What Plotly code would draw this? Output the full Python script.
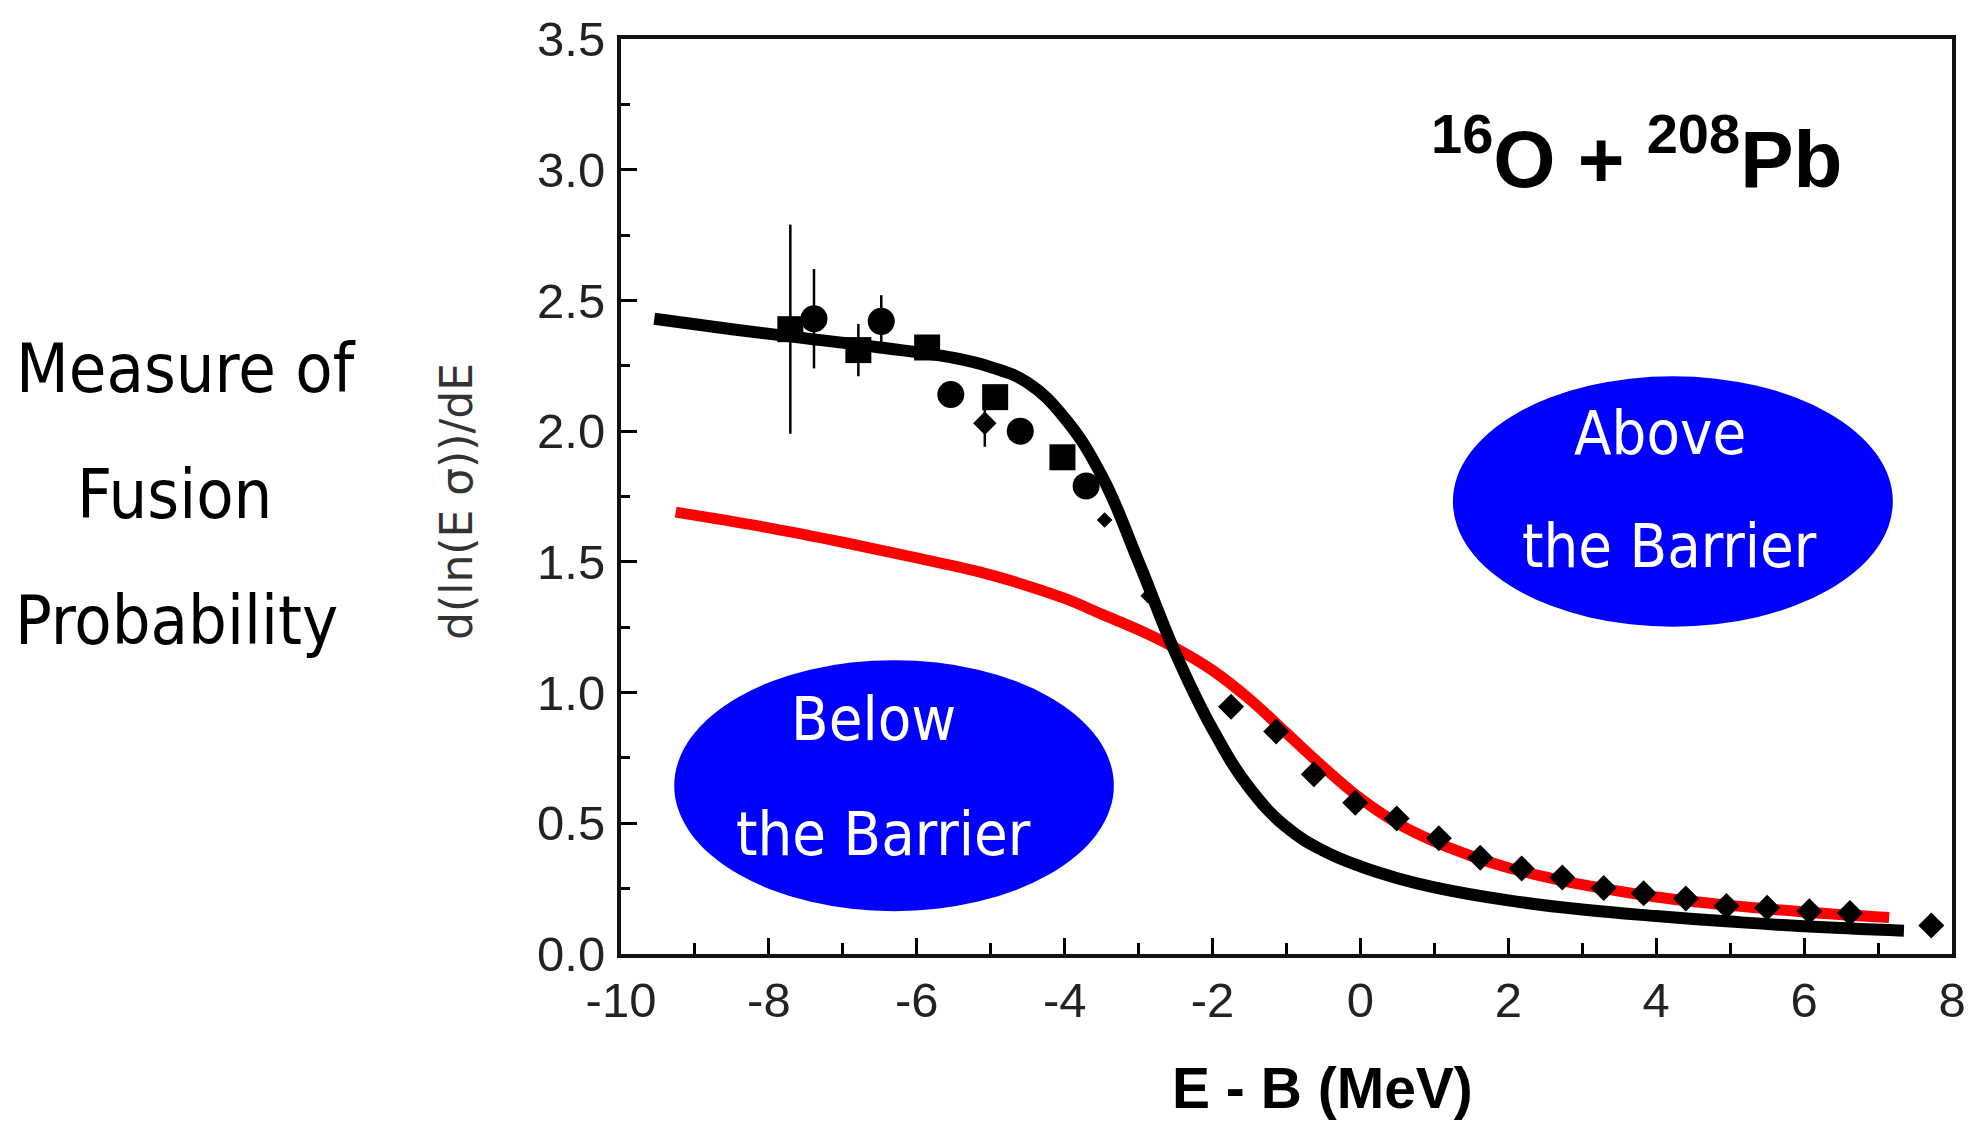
import plotly.graph_objects as go

# ---------------- data ----------------
black_x = [-9.55, -8.5, -7.5, -6.5, -5.5, -5.0, -4.5, -4.0, -3.5, -3.0, -2.5,
           -2.0, -1.5, -1.0, -0.5, 0.0, 0.5, 1.0, 2.0, 3.0, 4.0, 5.0, 6.0, 7.35]
black_y = [2.43, 2.39, 2.355, 2.32, 2.28, 2.245, 2.185, 2.05, 1.83, 1.50, 1.15,
           0.86, 0.635, 0.485, 0.395, 0.335, 0.29, 0.255, 0.205, 0.17, 0.145,
           0.124, 0.106, 0.089]

red_x = [-9.26, -8.0, -7.0, -6.0, -5.0, -4.0, -3.5, -3.0, -2.5, -2.0, -1.5,
         -1.0, -0.5, 0.0, 0.5, 1.0, 1.5, 2.0, 2.5, 3.0, 4.0, 5.0, 6.0, 7.15]
red_y = [1.69, 1.63, 1.575, 1.515, 1.45, 1.36, 1.30, 1.24, 1.17, 1.085, 0.975,
         0.845, 0.715, 0.595, 0.50, 0.43, 0.375, 0.33, 0.295, 0.265, 0.218, 0.186,
         0.161, 0.14]

circle_x = [-7.39, -6.48, -5.54, -4.60, -3.71]
circle_y = [2.43, 2.42, 2.14, 2.00, 1.79]
circle_err = [0.19, 0.10, 0.0, 0.0, 0.0]

square_x = [-7.71, -6.79, -5.86, -4.94, -4.03]
square_y = [2.39, 2.31, 2.32, 2.13, 1.90]
square_err = [0.40, 0.10, 0.0, 0.0, 0.0]

mid_diamond_x = [-5.08]
mid_diamond_y = [2.03]
mid_diamond_err = [0.09]

small_x = [-3.46, -2.87]
small_y = [1.66, 1.37]

diamond_x = [-1.75, -1.14, -0.63, -0.07, 0.49, 1.06, 1.62, 2.18, 2.73, 3.29,
             3.83, 4.40, 4.95, 5.50, 6.07, 6.62, 7.72]
diamond_y = [0.946, 0.851, 0.688, 0.579, 0.518, 0.443, 0.368, 0.327, 0.293, 0.252,
             0.232, 0.212, 0.184, 0.177, 0.164, 0.157, 0.109]

x_tickvals = [-10, -8, -6, -4, -2, 0, 2, 4, 6, 8]
x_ticktext = ["-10", "-8", "-6", "-4", "-2", "0", "2", "4", "6", "8"]
y_tickvals = [0.0, 0.5, 1.0, 1.5, 2.0, 2.5, 3.0, 3.5]
y_ticktext = ["0.0", "0.5", "1.0", "1.5", "2.0", "2.5", "3.0", "3.5"]

# ---------------- layout helpers ----------------
W, H = 1981, 1124
L, R, T, B = 621, 1952, 29, 954


def px(x):
    return (x - L) / (R - L)


def py(y):
    return (B - y) / (B - T)


ARIAL = "Liberation Sans, Arial, sans-serif"
TAHOMA = "DejaVu Sans Condensed, Liberation Sans, sans-serif"

fig = go.Figure()

fig.add_trace(go.Scatter(x=red_x, y=red_y, mode="lines",
                         line=dict(color="#ff0000", width=11, shape="spline",
                                   smoothing=1.0),
                         hoverinfo="skip", showlegend=False))
fig.add_trace(go.Scatter(x=black_x, y=black_y, mode="lines",
                         line=dict(color="#000000", width=12, shape="spline",
                                   smoothing=1.2),
                         hoverinfo="skip", showlegend=False))

err_style = dict(type="data", thickness=2.5, width=0, color="#000000")

fig.add_trace(go.Scatter(x=square_x, y=square_y, mode="markers",
                         marker=dict(symbol="square", size=26, color="#000000"),
                         error_y=dict(array=square_err, **err_style),
                         showlegend=False))
fig.add_trace(go.Scatter(x=circle_x, y=circle_y, mode="markers",
                         marker=dict(symbol="circle", size=27, color="#000000"),
                         error_y=dict(array=circle_err, **err_style),
                         showlegend=False))
fig.add_trace(go.Scatter(x=mid_diamond_x, y=mid_diamond_y, mode="markers",
                         marker=dict(symbol="diamond", size=18, color="#000000"),
                         error_y=dict(array=mid_diamond_err, **err_style),
                         showlegend=False))
fig.add_trace(go.Scatter(x=small_x, y=small_y, mode="markers",
                         marker=dict(symbol="diamond", size=12, color="#000000"),
                         showlegend=False))
fig.add_trace(go.Scatter(x=diamond_x, y=diamond_y, mode="markers",
                         marker=dict(symbol="diamond", size=20, color="#000000"),
                         showlegend=False))

axis_common = dict(
    showgrid=False, zeroline=False,
    showline=True, linecolor="#111111", linewidth=4, mirror=True,
    ticks="inside", ticklen=16, tickwidth=3, tickcolor="#000000",
    tickfont=dict(family=ARIAL, size=49, color="#222222"),
)

fig.update_xaxes(range=[-10, 8], tickmode="array", tickvals=x_tickvals,
                 ticktext=x_ticktext,
                 minor=dict(dtick=1, tick0=-10, ticks="inside", ticklen=11,
                            tickwidth=2.5, tickcolor="#000000"),
                 ticklabelstandoff=0, **axis_common)
fig.update_yaxes(range=[0, 3.5], tickmode="array", tickvals=y_tickvals,
                 ticktext=y_ticktext,
                 minor=dict(dtick=0.25, tick0=0, ticks="inside", ticklen=9,
                            tickwidth=2.5, tickcolor="#000000"),
                 ticklabelstandoff=2, **axis_common)

shapes = [
    dict(type="circle", xref="x", yref="y", x0=-9.28, x1=-3.335, y0=0.164, y1=1.124,
         fillcolor="#0000ff", line=dict(width=0), layer="above"),
    dict(type="circle", xref="x", yref="y", x0=1.25, x1=7.20, y0=1.252, y1=2.21,
         fillcolor="#0000ff", line=dict(width=0), layer="above"),
]


def ann(text, x, y, size, family, color="#000000", xanchor="center", yanchor="middle",
        textangle=0):
    return dict(text=text, xref="paper", yref="paper", x=px(x), y=py(y),
                xanchor=xanchor, yanchor=yanchor, showarrow=False,
                textangle=textangle,
                font=dict(family=family, size=size, color=color))


annotations = [
    ann("Measure of", 14, 362, 68, TAHOMA, xanchor="left"),
    ann("Fusion", 75, 489, 68, TAHOMA, xanchor="left"),
    ann("Probability", 13, 617, 68, TAHOMA, xanchor="left"),
    ann("d(ln(E σ))/dE", 457, 497, 44, "DejaVu Sans, sans-serif", color="#333333",
        textangle=-90),
    ann("<b><sup>16</sup>O + <sup>208</sup>Pb</b>", 1636, 144, 80, ARIAL),
    ann("<b>E - B (MeV)</b>", 1322, 1089, 57, ARIAL),
    ann("Above", 1660, 427, 61, TAHOMA, color="#ffffff"),
    ann("the Barrier", 1669, 541, 61, TAHOMA, color="#ffffff"),
    ann("Below", 873, 716, 61, TAHOMA, color="#ffffff"),
    ann("the Barrier", 883, 832, 61, TAHOMA, color="#ffffff"),
]

fig.update_layout(
    width=W, height=H,
    margin=dict(l=L, r=W - R, t=T, b=H - B, pad=0),
    paper_bgcolor="#ffffff", plot_bgcolor="#ffffff",
    shapes=shapes, annotations=annotations,
    showlegend=False,
)

fig.write_html("out.html")
